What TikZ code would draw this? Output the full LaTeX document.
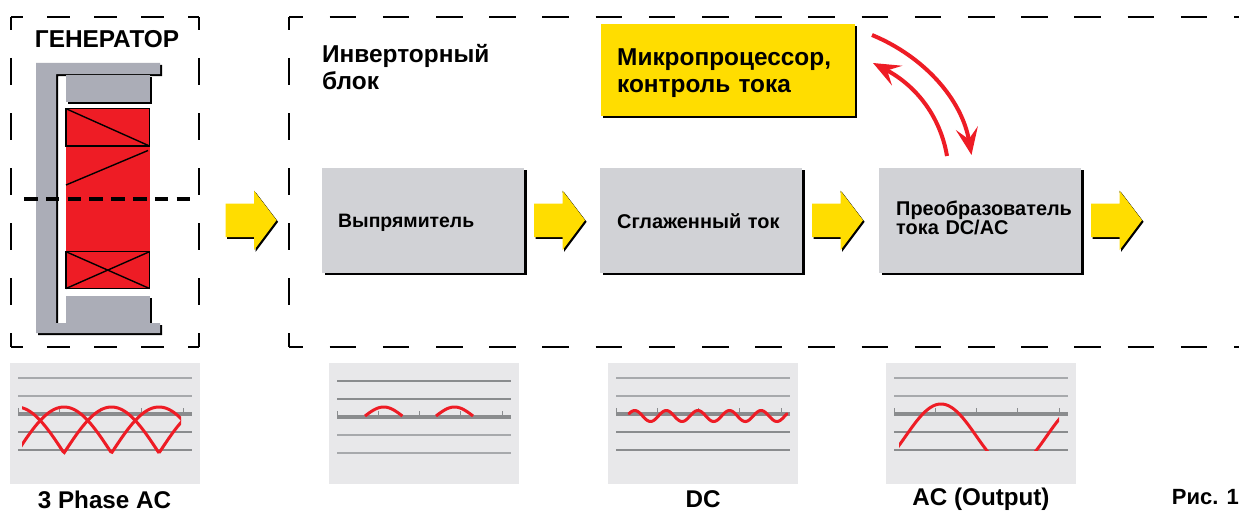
\documentclass[tikz,border=0pt]{standalone}
\usepackage{fontspec}
\setmainfont{Liberation Sans}
\usetikzlibrary{arrows.meta,shadows}
\definecolor{ired}{HTML}{EE1C25}
\definecolor{iyellow}{HTML}{FFDD00}
\definecolor{coregrey}{HTML}{ABADB7}
\definecolor{boxgrey}{HTML}{D1D2D6}
\definecolor{panelgrey}{HTML}{E8E8EA}
\definecolor{lightline}{HTML}{A7A9AC}
\definecolor{darkline}{HTML}{8A8C8E}
\tikzset{
  bigtext/.style={font=\fontsize{24.4}{27}\selectfont\bfseries,align=left,inner sep=0pt},
  smalltext/.style={font=\fontsize{19.9}{18}\selectfont\bfseries},
  blockbox/.style={smalltext,anchor=north west,fill=boxgrey,minimum width=202pt,minimum height=105pt,
    inner sep=0pt,align=left,text width=202pt,general shadow={fill=black,shadow xshift=3pt,shadow yshift=-2pt}},
  microbox/.style={bigtext,anchor=north west,fill=iyellow,minimum width=254pt,minimum height=92pt,
    text width=254pt,general shadow={fill=black,shadow xshift=2pt,shadow yshift=-2pt}},
  panelbox/.style={anchor=north west,fill=panelgrey,minimum width=190pt,minimum height=121pt,inner sep=0pt},
  caption/.style={font=\fontsize{24.2}{28}\selectfont\bfseries,inner sep=0pt},
  frameside/.style={line width=2pt,black},
  signal/.style={ired,line width=3pt},
  feedback/.style={ired,line width=4pt,-{Stealth[length=27pt,width=22pt,inset=11pt]}},
  wind/.style={black,line width=1.4pt},
  yarrow/.pic={
    \fill[black,shift={(1.6,1.6)}] (0,13) -- (28.5,13) -- (28.5,0) -- (51,29.5) -- (28.5,59.5) -- (28.5,46.5) -- (0,46.5) -- cycle;
    \fill[black] (28.5,0) -- (51,29.5) -- (50,29.5) -- (28.5,1.5) -- cycle;
    \fill[iyellow] (0,13) -- (28.5,13) -- (28.5,0) -- (51,29.5) -- (28.5,59.5) -- (28.5,46.5) -- (0,46.5) -- cycle;
  }
}
\newcommand{\gridrule}[4]{%
  \draw[#4,line width=1.2pt] (#1+8,#2+#3) -- (#1+182,#2+#3);}
\newcommand{\wavegrid}[4]{% x, y shift, upper colour, lower colour
  \gridrule{#1}{363+#2}{15}{#3}
  \gridrule{#1}{363+#2}{33}{#3}
  \gridrule{#1}{363+#2}{69}{#4}
  \gridrule{#1}{363+#2}{87}{#4}
  \foreach \t in {0,1,2,3,4} {\draw[darkline,line width=1pt] (#1+8+41.3*\t,363+#2+51) -- (#1+8+41.3*\t,363+#2+45);}
  \draw[darkline,line width=3.8pt] (#1+8,363+#2+51) -- (#1+182,363+#2+51);}
\begin{document}
\begin{tikzpicture}[x=1pt,y=-1pt]
\useasboundingbox (0,0) rectangle (1239,511);
\fill[white] (0,0) rectangle (1239,511);

% dashed frames
\draw[frameside,dash pattern=on 23pt off 24pt,dash phase=11pt] (11,17) -- (199,17);
\draw[frameside,dash pattern=on 23pt off 24pt,dash phase=11pt] (11,347) -- (199,347);
\draw[frameside,dash pattern=on 27pt off 28pt,dash phase=14pt] (11,17) -- (11,347);
\draw[frameside,dash pattern=on 27pt off 28pt,dash phase=14pt] (199,17) -- (199,347);
\draw[frameside,dash pattern=on 26.6pt off 26.6pt,dash phase=12.6pt] (289,17) -- (1239,17);
\draw[frameside,dash pattern=on 26.6pt off 26.6pt,dash phase=12.6pt] (289,347) -- (1239,347);
\draw[frameside,dash pattern=on 27pt off 28pt,dash phase=14pt] (289,17) -- (289,347);

% generator
\node[font=\fontsize{24.4}{28}\selectfont\bfseries,inner sep=0pt] (gen) at (107,39.5) {ГЕНЕРАТОР};
\fill[black] (68,77) rectangle (152,104);
\fill[black] (68,298) rectangle (152,325);
\fill[black,shift={(2,2)}] (36,63) -- (160,63) -- (160,74) -- (56,74) -- (56,323) -- (160,323) -- (160,333) -- (36,333) -- cycle;
\fill[coregrey] (36,63) -- (160,63) -- (160,74) -- (56,74) -- (56,323) -- (160,323) -- (160,333) -- (36,333) -- cycle;
\fill[coregrey] (66,75) rectangle (150,102);
\fill[coregrey] (66,296) rectangle (150,323);
\fill[ired] (66,108) rectangle (150,289);
\draw[wind] (66,108.7) rectangle (149.5,146);
\draw[wind] (66,108.7) -- (149.5,146);
\draw[wind] (66,185) -- (148,150.5);
\draw[wind] (66,251.7) rectangle (149.5,288.5);
\draw[wind] (66,251.7) -- (149.5,288.5);
\draw[wind] (66,288.5) -- (149.5,251.7);
\draw[black,line width=3.6pt,dash pattern=on 13.5pt off 8.3pt] (24,199) -- (190,199);

% blocks
\node[bigtext,anchor=north west] (inv) at (322,44) {Инверторный\\блок};
\node[microbox] (micro) at (601,23.5) {\hspace*{16pt}\rule{0pt}{23pt}Микропроцессор,\\\hspace*{16pt}контроль тока};
\node[blockbox,font=\fontsize{19.4}{18}\selectfont\bfseries] (rect) at (322,168) {\hspace*{16pt}\rule{0pt}{17pt}Выпрямитель};
\node[blockbox] (smooth) at (600,168) {\hspace*{17pt}Сглаженный ток};
\node[blockbox] (conv) at (879,168) {\hspace*{17pt}Преобразователь\\\hspace*{17pt}тока DC/AC\rule[-6pt]{0pt}{0pt}};

% yellow arrows
\pic at (225.5,190.7) {yarrow};
\pic at (534,190.7) {yarrow};
\pic at (812,190.7) {yarrow};
\pic at (1091,190.7) {yarrow};

% feedback arrows
\coordinate (fbOutStart) at (872,35);
\coordinate (fbOutEnd) at (971.5,155);
\coordinate (fbBackStart) at (947,156);
\coordinate (fbBackEnd) at (873,63);
\draw[feedback] (fbOutStart) .. controls (925,57) and (962,100) .. (fbOutEnd);
\draw[feedback] (fbBackStart) .. controls (940,115) and (915,85) .. (fbBackEnd);

% panels
\node[panelbox] (p1) at (10,363) {};
\node[panelbox] (p2) at (329,363) {};
\node[panelbox] (p3) at (608,363) {};
\node[panelbox] (p4) at (886,363) {};
\wavegrid{10}{0}{lightline}{darkline}
\wavegrid{329}{3}{darkline}{lightline}
\wavegrid{608}{0}{lightline}{darkline}
\wavegrid{886}{0}{lightline}{darkline}

% signals
\begin{scope}
\clip (22,400) rectangle (181,454.5);
\draw[signal,line join=miter] plot[domain=18:185,samples=120] (\x,{453-46*abs(cos((\x-64)/95*180))});
\draw[signal,line join=miter] plot[domain=18:185,samples=120] (\x,{453-46*abs(cos((\x-111.5)/95*180))});
\end{scope}
\draw[signal] plot[domain=365:402.4,samples=24] (\x,{416-9*cos((\x-383.7)/37.4*180)});
\draw[signal] plot[domain=436:473,samples=24] (\x,{416-9*cos((\x-454.5)/37*180)});
\draw[signal,line cap=round] plot[domain=629:787,samples=130] (\x,{416-5.5*cos((\x-634.7)/31.6*360)});
\begin{scope}
\clip (899,400) rectangle (1059,450.5);
\draw[signal] plot[domain=895:1065,samples=120] (\x,{436-32*cos((\x-941)/141*360)});
\end{scope}

% captions
\node[caption] (c1) at (104.5,499.5) {3 Phase AC};
\node[caption] (c3) at (703,499.5) {DC};
\node[caption] (c4) at (981,499) {AC (Output)};
\node[caption,anchor=east,font=\fontsize{22}{26}\selectfont\bfseries] (fig) at (1239,497) {Рис. 1};
\end{tikzpicture}
\end{document}
